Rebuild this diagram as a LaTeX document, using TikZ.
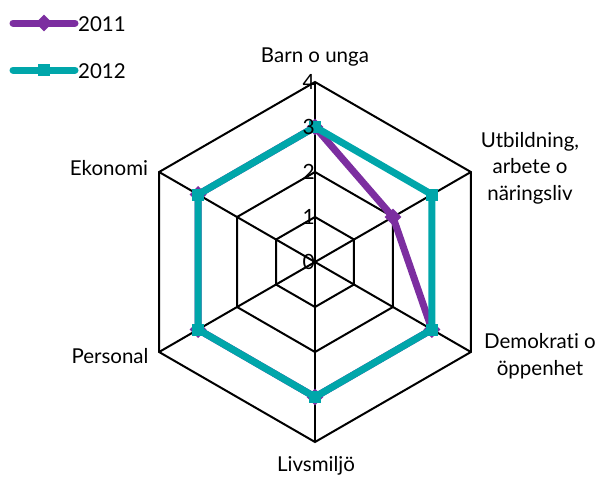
\documentclass[tikz,border=0pt]{standalone}
\usepackage{fontspec}
\setmainfont{Lato}[Ligatures=CommonOff]
\usetikzlibrary{calc,shapes.geometric}
\definecolor{cpurple}{RGB}{124,46,160}
\definecolor{cteal}{RGB}{0,166,170}
\begin{document}
\begin{tikzpicture}[x=1pt,y=-1pt,
  grid/.style={draw=black,line width=2pt},
  s2011/.style={draw=cpurple,line width=7pt,line join=round,line cap=round},
  s2012/.style={draw=cteal,line width=7pt,line join=miter,line cap=round},
  mk2011/.style={fill=cpurple,draw=none,shape=diamond,minimum size=17pt,inner sep=0pt},
  mk2012/.style={fill=cteal,draw=none,rectangle,minimum size=12pt,inner sep=0pt},
  lbl/.style={font=\fontsize{20.5}{26.5}\selectfont,inner sep=0pt,align=center},
  num/.style={font=\fontsize{21}{22}\selectfont,inner sep=0pt,anchor=east}]
\useasboundingbox (0,0) rectangle (604,477);
\coordinate (c) at (315,262);
% grid hexagons
\foreach \r in {1,2,3,4}{
  \draw[grid] ($(c)+(-90:\r*45)$) \foreach \a in {-30,30,90,150,210}{ -- ($(c)+(\a:\r*45)$)} -- cycle;
}
\foreach \a in {-90,-30,30,90,150,210}{ \draw[grid] (c) -- ($(c)+(\a:180)$); }
% data points
\foreach \a/\n in {-90/a,-30/b,30/c,90/d,150/e,210/f}{
  \coordinate (t\n) at ($(c)+(\a:135)$);
}
\coordinate (pb) at ($(c)+(-30:90)$);
\draw[s2011] (ta) -- (pb) -- (tc) -- (td) -- (te) -- (tf) -- cycle;
\foreach \n in {ta,pb,tc,td,te,tf}{ \node[mk2011] at (\n) {}; }
\draw[s2012] (ta) -- (tb) -- (tc) -- (td) -- (te) -- (tf) -- cycle;
\foreach \n in {ta,tb,tc,td,te,tf}{ \node[mk2012] at (\n) {}; }
% numbers
\foreach \v in {0,1,2,3,4}{ \node[num] (n\v) at (315,{262-45*\v}) {\v}; }
% labels
\node[lbl] (l1) at (315,57) {Barn o unga};
\node[lbl] (l2) at (530,168) {Utbildning,\\arbete o\\näringsliv};
\node[lbl] (l3) at (540,356) {Demokrati o\\öppenhet};
\node[lbl] (l4) at (316,466) {Livsmiljö};
\node[lbl] (l5) at (110,356) {Personal};
\node[lbl] (l6) at (109,168) {Ekonomi};
% legend
\coordinate (a1) at (13,23); \coordinate (a2) at (75,23);
\draw[s2011] (a1) -- (a2);
\node[mk2011] (m1) at (44,23) {};
\node[lbl,anchor=west] (k1) at (78,24) {2011};
\coordinate (b1) at (13,70); \coordinate (b2) at (75,70);
\draw[s2012] (b1) -- (b2);
\node[mk2012] (m2) at (44,70) {};
\node[lbl,anchor=west] (k2) at (78,71) {2012};
\end{tikzpicture}
\end{document}
